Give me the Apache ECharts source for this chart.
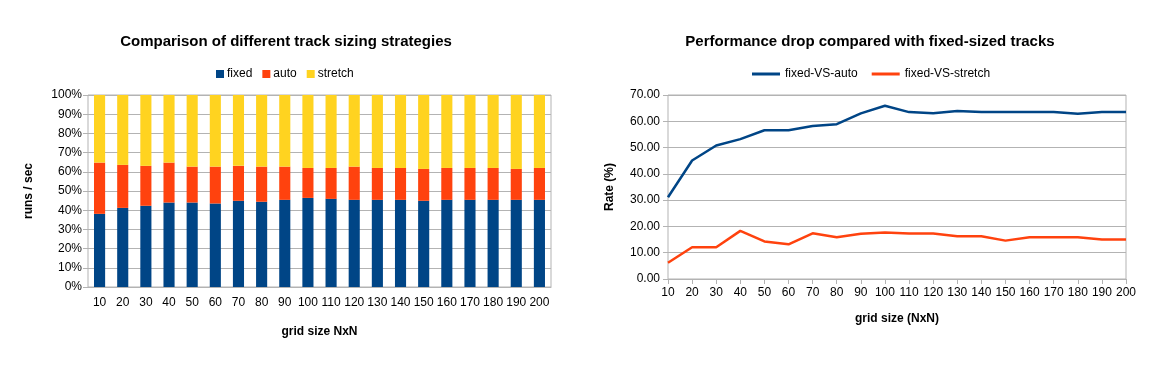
<!DOCTYPE html>
<html><head><meta charset="utf-8">
<script src="https://cdn.jsdelivr.net/npm/echarts@6/dist/echarts.min.js"></script>
<style>html,body{margin:0;padding:0;background:#fff}#c{width:1163px;height:369px}</style>
</head><body><div id="c"></div>
<script>
const categories = ['10','20','30','40','50','60','70','80','90','100','110','120','130','140','150','160','170','180','190','200'];
const fixedPct = [38.1,41.2,42.3,44.0,44.0,43.5,44.9,44.4,45.4,46.4,45.9,45.4,45.4,45.4,44.9,45.4,45.4,45.4,45.4,45.4];
const autoPct  = [26.7,22.4,20.8,20.8,18.7,19.2,18.2,18.3,17.3,15.6,16.1,17.3,16.6,16.6,16.6,16.6,16.6,16.6,16.1,16.6];
const stretchPct=[35.2,36.4,36.9,35.2,37.3,37.3,36.9,37.3,37.3,38.0,38.0,37.3,38.0,38.0,38.5,38.0,38.0,38.0,38.5,38.0];
const fixedVsAuto    = [31.1,45.1,50.8,53.2,56.6,56.6,58.2,58.9,63.0,65.9,63.5,63.1,63.9,63.5,63.5,63.5,63.5,62.9,63.5,63.5];
const fixedVsStretch = [6.2,12.1,12.1,18.3,14.3,13.2,17.4,15.9,17.2,17.7,17.3,17.3,16.3,16.3,14.6,15.9,15.9,15.9,15.0,15.0];

const FONT = '"Liberation Sans", Arial, sans-serif';
const grey = '#b3b3b3';
const chart = echarts.init(document.getElementById('c'), null, {renderer:'canvas'});
const axisLbl = {color:'#000', fontFamily:FONT, fontSize:12};
const nameStyle = {color:'#000', fontFamily:FONT, fontSize:12, fontWeight:'bold'};
chart.setOption({
  animation:false,
  textStyle:{fontFamily:FONT},
  title:[
    {text:'Comparison of different track sizing strategies', left:281, top:29, textAlign:'center',
     textStyle:{fontFamily:FONT, fontSize:15, fontWeight:'bold', color:'#000'}},
    {text:'Performance drop compared with fixed-sized tracks', left:865, top:29, textAlign:'center',
     textStyle:{fontFamily:FONT, fontSize:15, fontWeight:'bold', color:'#000'}}
  ],
  legend:[
    {data:['fixed','auto','stretch'], left:211, top:63, icon:'rect', itemWidth:8, itemHeight:8, itemGap:10,
     textStyle:{fontFamily:FONT, fontSize:12, color:'#000', padding:[0,0,0,-2]}},
    {data:['fixed-VS-auto','fixed-VS-stretch'], left:747, top:63, icon:'rect', itemWidth:28, itemHeight:3, itemGap:14,
     textStyle:{fontFamily:FONT, fontSize:12, color:'#000'}}
  ],
  grid:[
    {left:88, top:95, width:463, height:192, show:true, borderColor:grey, borderWidth:1},
    {left:668, top:95, width:458, height:184, show:true, borderColor:grey, borderWidth:1}
  ],
  xAxis:[
    {type:'category', gridIndex:0, data:categories, boundaryGap:true,
     axisLine:{lineStyle:{color:grey}}, axisTick:{lineStyle:{color:grey}, length:6, interval:0},
     axisLabel:Object.assign({margin:10, interval:0}, axisLbl),
     name:'grid size NxN', nameLocation:'middle', nameGap:39, nameTextStyle:nameStyle},
    {type:'category', gridIndex:1, data:categories, boundaryGap:false,
     axisLine:{lineStyle:{color:grey}}, axisTick:{lineStyle:{color:grey}, length:5, interval:0},
     axisLabel:Object.assign({margin:8, interval:0}, axisLbl),
     name:'grid size (NxN)', nameLocation:'middle', nameGap:34, nameTextStyle:nameStyle}
  ],
  yAxis:[
    {type:'value', gridIndex:0, min:0, max:100, interval:10,
     axisLine:{show:false}, axisTick:{show:true, length:5, lineStyle:{color:grey}},
     splitLine:{lineStyle:{color:grey}},
     axisLabel:Object.assign({formatter:'{value}%', margin:6}, axisLbl),
     name:'runs / sec', nameLocation:'middle', nameGap:53, nameTextStyle:nameStyle},
    {type:'value', gridIndex:1, min:0, max:70, interval:10,
     axisLine:{show:false}, axisTick:{show:true, length:5, lineStyle:{color:grey}},
     splitLine:{lineStyle:{color:grey}},
     axisLabel:Object.assign({formatter:v=>v.toFixed(2), margin:8}, axisLbl),
     name:'Rate (%)', nameLocation:'middle', nameGap:52, nameTextStyle:nameStyle}
  ],
  series:[
    {name:'fixed', type:'bar', stack:'s', xAxisIndex:0, yAxisIndex:0, data:fixedPct, barWidth:'48%', itemStyle:{color:'#004586'}},
    {name:'auto', type:'bar', stack:'s', xAxisIndex:0, yAxisIndex:0, data:autoPct, barWidth:'48%', itemStyle:{color:'#ff420e'}},
    {name:'stretch', type:'bar', stack:'s', xAxisIndex:0, yAxisIndex:0, data:stretchPct, barWidth:'48%', itemStyle:{color:'#ffd320'}},
    {name:'fixed-VS-auto', type:'line', xAxisIndex:1, yAxisIndex:1, data:fixedVsAuto, symbol:'none',
     lineStyle:{color:'#004586', width:2.5}, itemStyle:{color:'#004586'}},
    {name:'fixed-VS-stretch', type:'line', xAxisIndex:1, yAxisIndex:1, data:fixedVsStretch, symbol:'none',
     lineStyle:{color:'#ff420e', width:2.5}, itemStyle:{color:'#ff420e'}}
  ]
});
</script></body></html>
